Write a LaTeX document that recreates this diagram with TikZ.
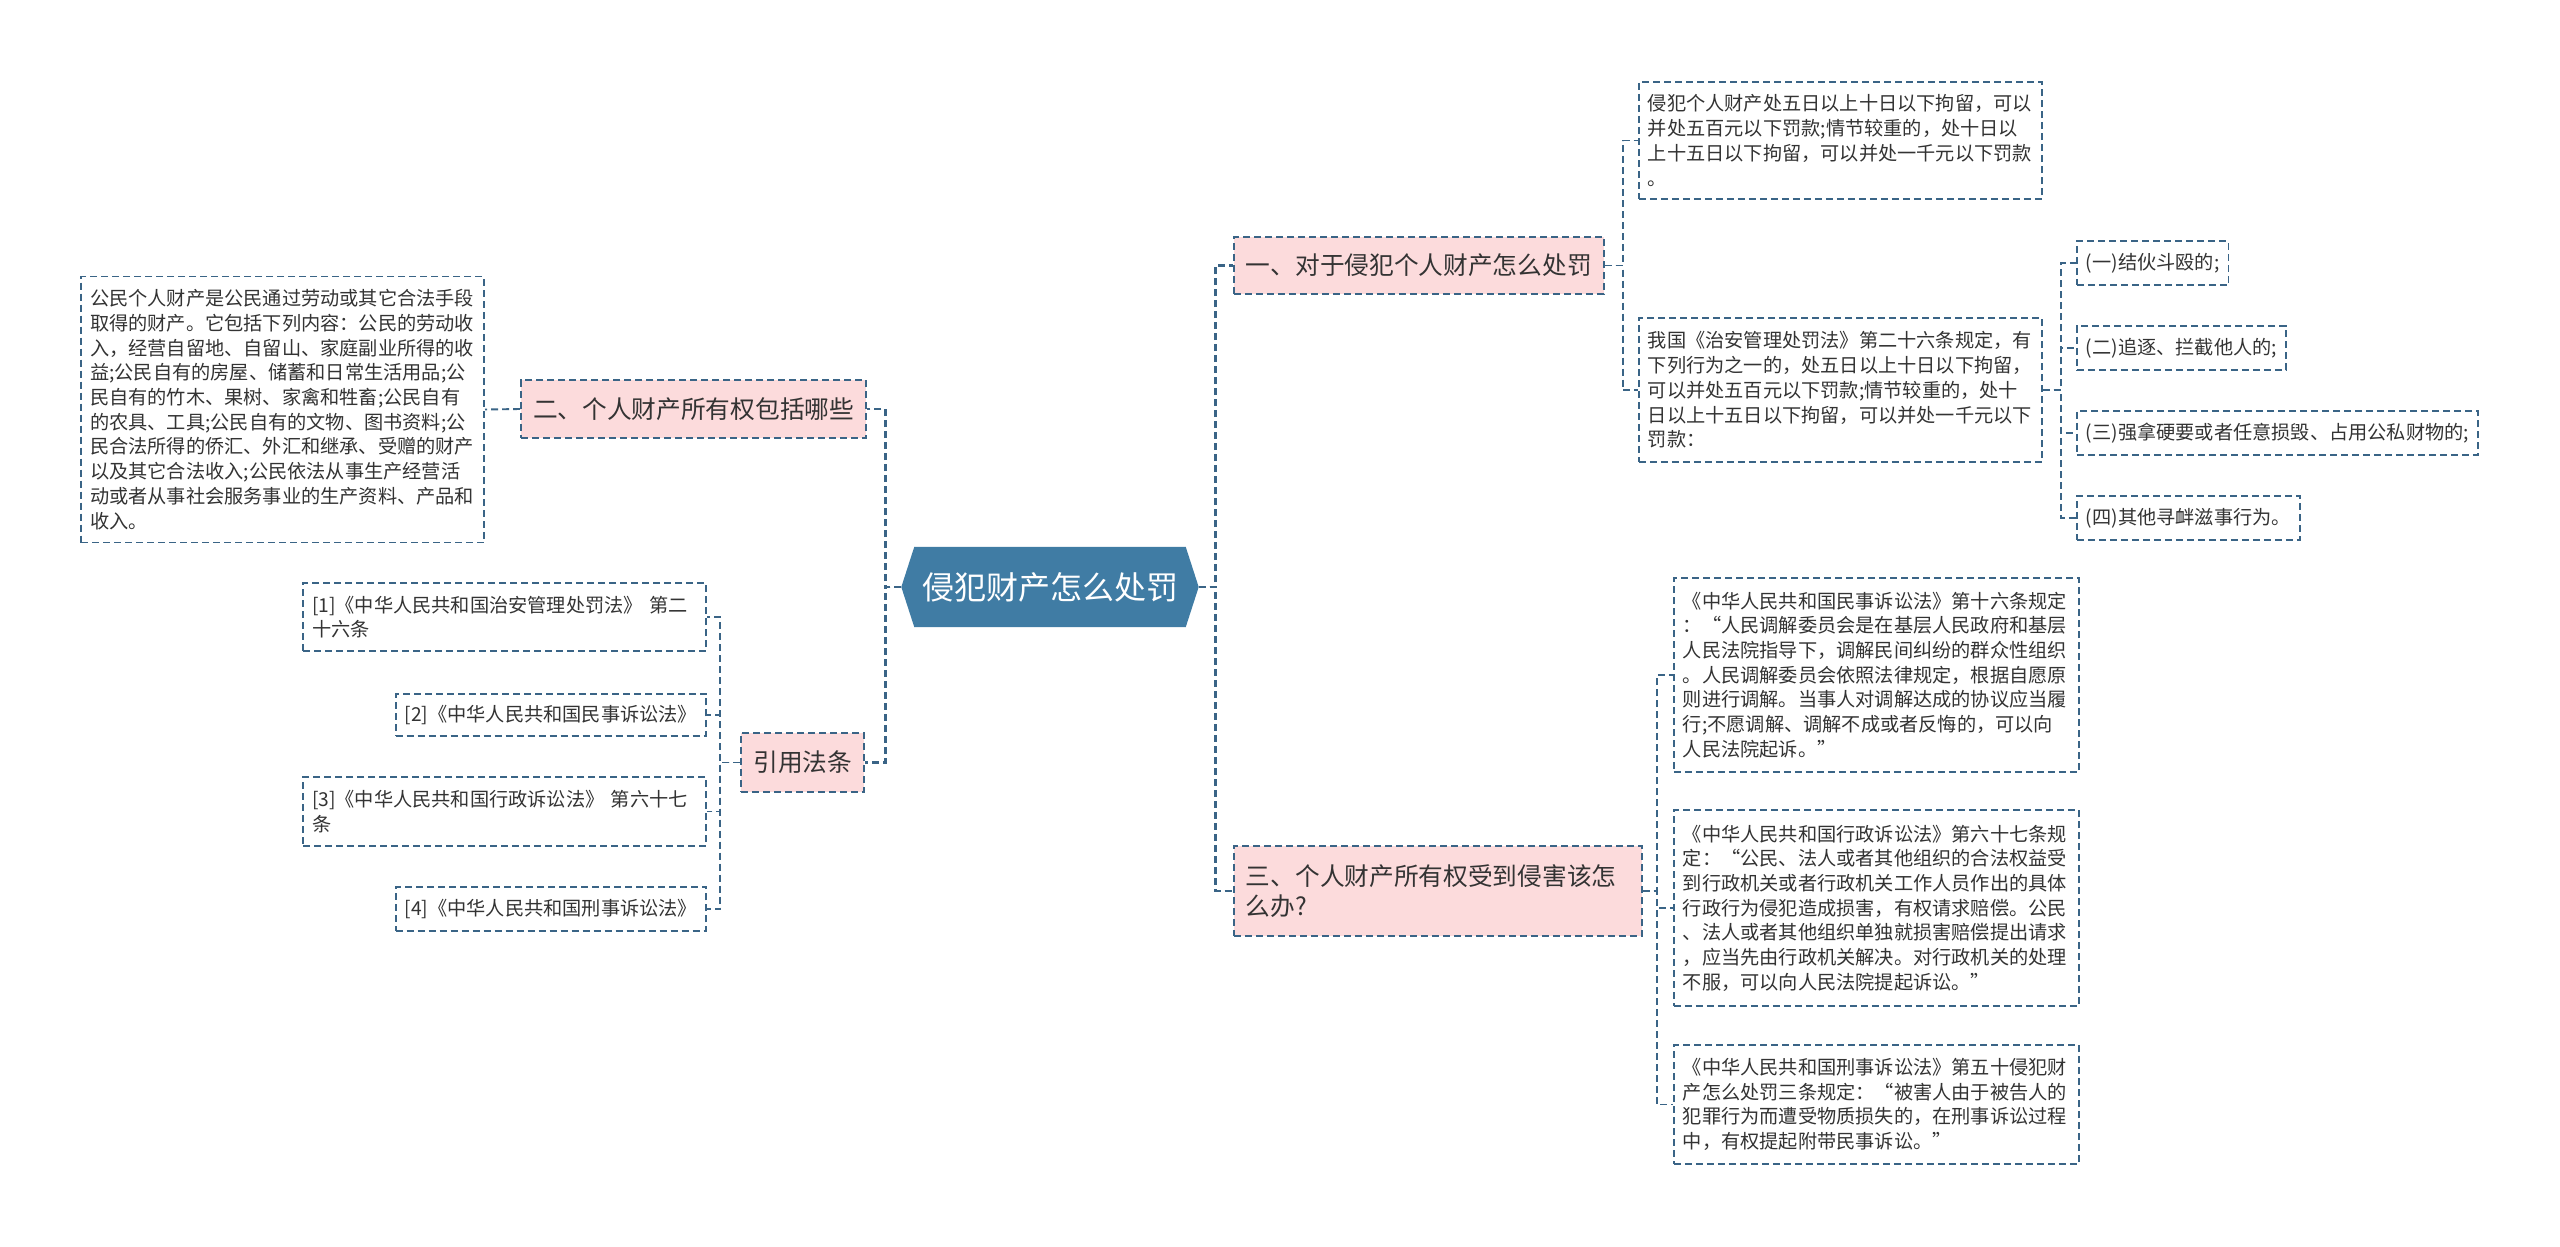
\documentclass[tikz,border=0pt]{standalone}
\usepackage{fontspec}
\setmainfont{Noto Sans CJK SC}
\usetikzlibrary{backgrounds}
\definecolor{lineblue}{RGB}{58,100,134}
\definecolor{rootblue}{RGB}{64,124,164}
\definecolor{pinkfill}{RGB}{252,219,220}
\definecolor{textgray}{RGB}{51,51,51}
\newcommand\leaffont{\fontsize{19.2}{24.7}\selectfont}
\newcommand\branchfont{\fontsize{24.7}{30}\selectfont}
\newcommand\rootfont{\fontsize{32}{38}\selectfont}
\begin{document}
\begin{tikzpicture}[x=1pt,y=-1pt,
 leafbox/.style={draw=lineblue, line width=1.8pt, dash pattern=on 7pt off 4pt, fill=white, inner xsep=9pt, inner ysep=4pt, align=left, text=textgray, font=\leaffont},
 branchbox/.style={draw=lineblue, line width=1.8pt, dash pattern=on 7pt off 4pt, fill=pinkfill, inner xsep=12pt, inner ysep=4pt, align=left, text=textgray, font=\branchfont},
 rootbox/.style={inner sep=0pt, minimum width=297pt, minimum height=80pt, text=white, font=\rootfont},
 mainlink/.style={draw=lineblue, line width=2.8pt, dash pattern=on 7pt off 4pt},
 sublink/.style={draw=lineblue, line width=1.9pt, dash pattern=on 7pt off 4pt}]

\useasboundingbox (0,0) rectangle (2560,1247);

% root
\node[rootbox] (root) at (1050,587) {侵犯财产怎么处罚};
\begin{scope}[on background layer]
 \fill[white] (0,0) rectangle (2560,1247);
 \fill[rootblue] (root.west) -- ([xshift=13pt]root.north west) -- ([xshift=-13pt]root.north east) -- (root.east) -- ([xshift=-13pt]root.south east) -- ([xshift=13pt]root.south west) -- cycle;
\end{scope}

% left side
\node[branchbox, anchor=east, minimum height=58pt] (b2) at (867,409) {二、个人财产所有权包括哪些};
\node[leafbox, anchor=east, text width=385pt, minimum height=266pt] (big) at (485,409.5) {公民个人财产是公民通过劳动或其它合法手段\\取得的财产。它包括下列内容：公民的劳动收\\入，经营自留地、自留山、家庭副业所得的收\\益;公民自有的房屋、储蓄和日常生活用品;公\\民自有的竹木、果树、家禽和牲畜;公民自有\\的农具、工具;公民自有的文物、图书资料;公\\民合法所得的侨汇、外汇和继承、受赠的财产\\以及其它合法收入;公民依法从事生产经营活\\动或者从事社会服务事业的生产资料、产品和\\收入。};

\node[branchbox, anchor=east, minimum height=59pt] (cite) at (865,762.5) {引用法条};
\node[leafbox, anchor=east, text width=385pt, minimum height=68pt] (p1) at (707,617) {[1]《中华人民共和国治安管理处罚法》 第二\\十六条};
\node[leafbox, anchor=east, minimum height=42pt] (p2) at (707,715) {[2]《中华人民共和国民事诉讼法》};
\node[leafbox, anchor=east, text width=385pt, minimum height=69pt] (p3) at (707,811.5) {[3]《中华人民共和国行政诉讼法》 第六十七\\条};
\node[leafbox, anchor=east, minimum height=44pt] (p4) at (707,909) {[4]《中华人民共和国刑事诉讼法》};

% right side, branch one
\node[branchbox, anchor=west, minimum height=57pt] (b1) at (1233,265.5) {一、对于侵犯个人财产怎么处罚};
\node[leafbox, anchor=west, text width=385pt, minimum height=117pt] (b11) at (1638,140.5) {侵犯个人财产处五日以上十日以下拘留，可以\\并处五百元以下罚款;情节较重的，处十日以\\上十五日以下拘留，可以并处一千元以下罚款\\。};
\node[leafbox, anchor=west, text width=385pt, minimum height=144pt] (b12) at (1638,390) {我国《治安管理处罚法》第二十六条规定，有\\下列行为之一的，处五日以上十日以下拘留，\\可以并处五百元以下罚款;情节较重的，处十\\日以上十五日以下拘留，可以并处一千元以下\\罚款：};
\node[leafbox, anchor=west, minimum height=44pt] (c1) at (2076,263) {(一)结伙斗殴的;};
\node[leafbox, anchor=west, minimum height=44pt] (c2) at (2076,348) {(二)追逐、拦截他人的;};
\node[leafbox, anchor=west, minimum height=44pt] (c3) at (2076,433) {(三)强拿硬要或者任意损毁、占用公私财物的;};
\node[leafbox, anchor=west, minimum height=44pt] (c4) at (2076,518) {(四)其他寻衅滋事行为。};

% right side, branch three
\node[branchbox, anchor=west, text width=384pt, minimum height=90pt] (b3) at (1233,891) {三、个人财产所有权受到侵害该怎\\么办?};
\node[leafbox, anchor=west, text width=387pt, minimum height=194pt] (b31) at (1673,675) {《中华人民共和国民事诉讼法》第十六条规定\\：“人民调解委员会是在基层人民政府和基层\\人民法院指导下，调解民间纠纷的群众性组织\\。人民调解委员会依照法律规定，根据自愿原\\则进行调解。当事人对调解达成的协议应当履\\行;不愿调解、调解不成或者反悔的，可以向\\人民法院起诉。”};
\node[leafbox, anchor=west, text width=387pt, minimum height=196pt] (b32) at (1673,908) {《中华人民共和国行政诉讼法》第六十七条规\\定：“公民、法人或者其他组织的合法权益受\\到行政机关或者行政机关工作人员作出的具体\\行政行为侵犯造成损害，有权请求赔偿。公民\\、法人或者其他组织单独就损害赔偿提出请求\\，应当先由行政机关解决。对行政机关的处理\\不服，可以向人民法院提起诉讼。”};
\node[leafbox, anchor=west, text width=387pt, minimum height=119pt] (b33) at (1673,1104.5) {《中华人民共和国刑事诉讼法》第五十侵犯财\\产怎么处罚三条规定：“被害人由于被告人的\\犯罪行为而遭受物质损失的，在刑事诉讼过程\\中，有权提起附带民事诉讼。”};

% connectors from root
\draw[mainlink] (root.east) -- ++(17,0) |- (b1.west);
\draw[mainlink] (root.east) -- ++(17,0) |- (b3.west);
\draw[mainlink] (root.west) -- ++(-16,0) |- (b2.east);
\draw[mainlink] (root.west) -- ++(-16,0) |- (cite.east);

% sub connectors
\draw[sublink] (b1.east) -- ++(18,0) |- (b11.west);
\draw[sublink] (b1.east) -- ++(18,0) |- (b12.west);
\draw[sublink] (b12.east) -- ++(18,0) |- (c1.west);
\draw[sublink] (b12.east) -- ++(18,0) |- (c2.west);
\draw[sublink] (b12.east) -- ++(18,0) |- (c3.west);
\draw[sublink] (b12.east) -- ++(18,0) |- (c4.west);
\draw[sublink] (b3.east) -- ++(14,0) |- (b31.west);
\draw[sublink] (b3.east) -- ++(14,0) |- (b32.west);
\draw[sublink] (b3.east) -- ++(14,0) |- (b33.west);
\draw[sublink] (b2.west) -- (big.east);
\draw[sublink] (cite.west) -- ++(-20,0) |- (p1.east);
\draw[sublink] (cite.west) -- ++(-20,0) |- (p2.east);
\draw[sublink] (cite.west) -- ++(-20,0) |- (p3.east);
\draw[sublink] (cite.west) -- ++(-20,0) |- (p4.east);
\end{tikzpicture}
\end{document}
